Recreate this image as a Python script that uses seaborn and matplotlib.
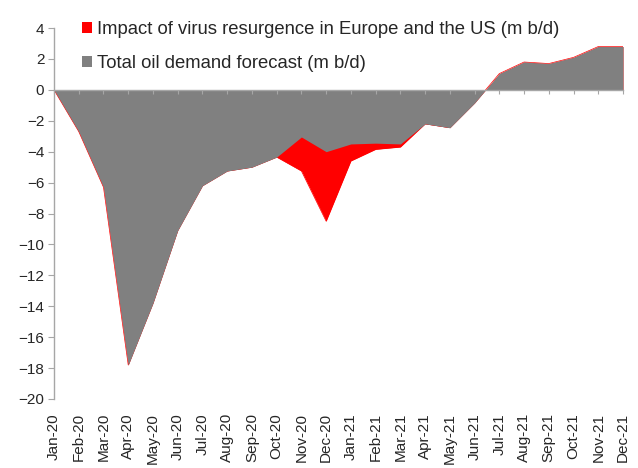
import matplotlib
matplotlib.use("Agg")
import matplotlib.pyplot as plt
from matplotlib.patches import Patch
import seaborn as sns
import pandas as pd

# --- dados (m b/d) ---
meses = ['Jan-20', 'Feb-20', 'Mar-20', 'Apr-20', 'May-20', 'Jun-20', 'Jul-20', 'Aug-20',
         'Sep-20', 'Oct-20', 'Nov-20', 'Dec-20', 'Jan-21', 'Feb-21', 'Mar-21', 'Apr-21',
         'May-21', 'Jun-21', 'Jul-21', 'Aug-21', 'Sep-21', 'Oct-21', 'Nov-21', 'Dec-21']

previsao_total = [0.0, -2.7, -6.3, -17.8, -13.8, -9.1, -6.2, -5.25, -5.0, -4.35, -3.05, -4.0,
                  -3.5, -3.45, -3.5, -2.2, -2.45, -0.85, 1.05, 1.8, 1.7, 2.1, 2.8, 2.8]

impacto_virus = [0.0, -2.7, -6.3, -17.8, -13.8, -9.1, -6.2, -5.25, -5.0, -4.35, -5.25, -8.5,
                 -4.6, -3.85, -3.7, -2.2, -2.45, -0.85, 1.05, 1.8, 1.7, 2.1, 2.8, 2.8]

rotulo_impacto = 'Impact of virus resurgence in Europe and the US (m b/d)'
rotulo_total = 'Total oil demand forecast (m b/d)'

COR_VERMELHO = '#ff0000'
COR_CINZA = '#808080'
COR_EIXO = '#a6a6a6'

sns.set_style("white")
plt.rcParams['font.family'] = ['Liberation Sans', 'DejaVu Sans']

df = pd.DataFrame({'pos': range(len(meses)), 'mes': meses,
                   'total': previsao_total, 'impacto': impacto_virus})

fig = plt.figure(figsize=(6.38, 4.68), dpi=100)
ax = fig.add_axes([54 / 638, 1 - 399 / 468, (623 - 54) / 638, (399 - 28) / 468])

# série vermelha por baixo, cinza por cima
sns.lineplot(data=df, x='pos', y='impacto', color=COR_VERMELHO, linewidth=0.5, ax=ax, zorder=2)
ax.fill_between(df['pos'], 0, df['impacto'], color=COR_VERMELHO, linewidth=0, zorder=2)
ax.fill_between(df['pos'], 0, df['total'], color=COR_CINZA, linewidth=0, zorder=3)

ax.set_xlim(0, len(meses) - 1)
ax.set_ylim(-20, 4)
ax.set_yticks(range(-20, 5, 2))
ax.set_xticks(df['pos'])
ax.set_xticklabels(meses, rotation=90, fontsize=11)
ax.set_xlabel('')
ax.set_ylabel('')

for lado in ['top', 'right', 'bottom']:
    ax.spines[lado].set_visible(False)
ax.spines['left'].set_color(COR_EIXO)
ax.spines['left'].set_linewidth(1)
ax.tick_params(axis='y', direction='out', length=4, width=0.8, color=COR_EIXO,
               labelsize=11, pad=3, left=True)
ax.tick_params(axis='x', length=0, pad=10)

# eixo horizontal em y=0 com as marcas
eixo_zero = ax.secondary_xaxis(0, transform=ax.transData)
eixo_zero.set_xticks(df['pos'])
eixo_zero.set_xticklabels([])
eixo_zero.spines['bottom'].set_color(COR_EIXO)
eixo_zero.spines['bottom'].set_linewidth(1)
eixo_zero.tick_params(axis='x', direction='out', length=3, width=0.8, color=COR_EIXO)
eixo_zero.set_zorder(5)

handles = [Patch(facecolor=COR_VERMELHO, edgecolor='none', label=rotulo_impacto),
           Patch(facecolor=COR_CINZA, edgecolor='none', label=rotulo_total)]
fig.legend(handles=handles, loc='upper left', bbox_to_anchor=(82 / 638, 1 - 21 / 468),
           frameon=False, fontsize=13.3, borderpad=0, borderaxespad=0,
           handlelength=0.54, handleheight=0.54, handletextpad=0.25, labelspacing=0.9)

fig.savefig('out.png', dpi=100)
